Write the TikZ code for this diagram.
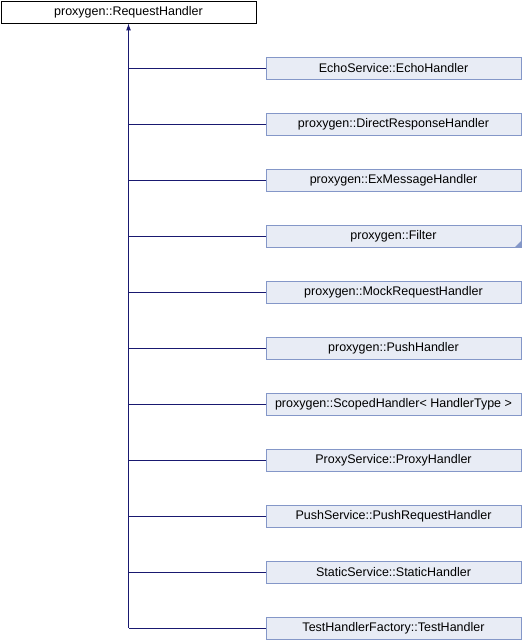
\documentclass[tikz,border=0pt]{standalone}
\usepackage{fontspec}
\setmainfont{Liberation Sans}
\usetikzlibrary{arrows.meta,calc}
\definecolor{edgeblue}{HTML}{191970}
\definecolor{childfill}{HTML}{E8ECF5}
\definecolor{childdraw}{HTML}{8497C8}
\tikzset{
  rootbox/.style={draw=black, fill=white, line width=0.9pt, minimum width=255pt, minimum height=22pt, inner sep=0pt, font=\fontsize{12.5}{14}\selectfont},
  childbox/.style={draw=childdraw, fill=childfill, line width=0.9pt, minimum width=255pt, minimum height=22pt, inner sep=0pt, font=\fontsize{12.5}{14}\selectfont},
  edge/.style={draw=edgeblue, line width=1pt},
}
\begin{document}
\begin{tikzpicture}[x=1pt,y=-1pt]
\useasboundingbox (0,0) rectangle (522,640);
\node[rootbox] (root) at (128.5,12) {proxygen::RequestHandler};
\coordinate (trunk) at (128.5,628);
\foreach \i/\name/\txt in {
  0/c0/{EchoService::EchoHandler},
  1/c1/{proxygen::DirectResponseHandler},
  2/c2/{proxygen::ExMessageHandler},
  3/c3/{proxygen::Filter},
  4/c4/{proxygen::MockRequestHandler},
  5/c5/{proxygen::PushHandler},
  6/c6/{proxygen::ScopedHandler< HandlerType >},
  7/c7/{ProxyService::ProxyHandler},
  8/c8/{PushService::PushRequestHandler},
  9/c9/{StaticService::StaticHandler},
  10/c10/{TestHandlerFactory::TestHandler}}
{
  \node[childbox] (\name) at (393.5,68+56*\i) {\txt};
  \draw[edge] (\name.west) -- (128.5,68+56*\i);
}
\fill[childdraw] ($(c3.south east)+(-0.45,-0.45)$) -- ++(0,-6) -- ++(-6,6) -- cycle;
\draw[edge, {Latex[length=7pt,width=5pt]}-] (root.south) -- (trunk);
\end{tikzpicture}
\end{document}
